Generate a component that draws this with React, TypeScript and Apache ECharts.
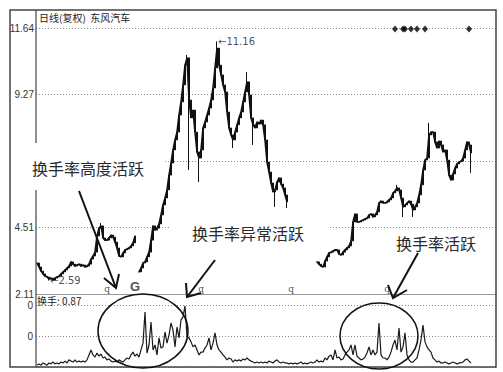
import React, { useEffect, useRef } from 'react';
import * as echarts from 'echarts';

const SLOT_COUNT = 230;
const PRICE_TICKS = ['2.11', '4.51', '6.89', '9.27', '11.64'];
const PRICE_BASE = 2.11;
const PRICE_STEP = 2.3825;

// closing prices, segment 1 (slots 0-49)
const CLOSE_SEG1 = [
  3.22, 3.08, 2.93, 2.83, 2.75, 2.72, 2.65, 2.68, 2.61, 2.68,
  2.72, 2.75, 2.83, 2.90, 2.97, 3.04, 3.11, 3.26, 3.18, 3.11,
  3.15, 3.18, 3.11, 3.15, 3.08, 3.11, 3.18, 3.36, 3.47, 3.61,
  4.19, 4.47, 4.55, 4.12, 4.04, 4.04, 4.12, 4.22, 4.15, 3.97,
  3.76, 3.47, 3.44, 3.58, 3.69, 3.72, 3.76, 3.83, 3.94, 4.19,
];
// segment 2 (slots 51-125)
const CLOSE_SEG2 = [
  2.90, 3.04, 3.22, 3.26, 3.44, 3.61, 4.04, 4.55, 4.40, 4.47,
  4.62, 4.94, 5.30, 5.55, 5.84, 6.37, 6.80, 7.27, 7.63, 7.91,
  8.52, 8.99, 9.60, 10.31, 10.57, 9.06, 8.42, 8.70, 7.91, 7.20,
  6.98, 7.27, 8.06, 8.27, 8.52, 8.77, 9.06, 9.49, 10.21, 10.92,
  10.31, 9.96, 9.60, 9.35, 8.63, 8.06, 7.81, 7.63, 7.91, 8.17,
  8.42, 8.63, 8.99, 9.35, 9.71, 9.24, 8.42, 8.17, 8.06, 8.27,
  8.20, 8.34, 8.17, 7.63, 6.84, 6.48, 6.09, 5.77, 5.84, 6.12,
  6.27, 6.05, 5.91, 5.66, 5.41,
];
// segment 3 (slots 140-217)
const CLOSE_SEG3 = [
  3.26, 3.18, 3.11, 3.08, 3.29, 3.44, 3.58, 3.61, 3.65, 3.69,
  3.69, 3.54, 3.51, 3.61, 3.69, 3.76, 3.83, 4.01, 4.69, 4.98,
  4.69, 4.69, 4.73, 4.76, 4.80, 4.83, 4.94, 4.98, 4.87, 4.94,
  5.05, 5.37, 5.44, 5.37, 5.37, 5.41, 5.48, 5.55, 5.73, 5.80,
  5.91, 5.84, 5.55, 5.23, 5.30, 5.37, 5.44, 5.33, 5.12, 5.23,
  5.37, 5.66, 6.02, 6.55, 6.91, 6.98, 7.81, 7.91, 7.91, 7.56,
  7.34, 7.59, 7.45, 7.20, 7.27, 6.91, 6.37, 6.19, 6.41, 6.62,
  6.77, 6.84, 6.87, 6.98, 7.27, 7.56, 7.45, 7.16,
];
const WICK_LOWS: [number, number][] = [
  [6, 2.59], [76, 6.55], [81, 6.12], [98, 7.34], [108, 7.45], [119, 5.23],
  [125, 5.19], [183, 4.87], [188, 4.87], [217, 6.45],
];
const WICK_HIGHS: [number, number][] = [
  [32, 4.65], [75, 10.67], [90, 11.16], [105, 10.06], [180, 6.02], [196, 8.24],
];

const TURNOVER = [
  0.06, 0.10, 0.06, 0.13, 0.10, 0.06, 0.13, 0.10, 0.16, 0.10,
  0.13, 0.10, 0.16, 0.13, 0.19, 0.13, 0.23, 0.19, 0.16, 0.23,
  0.16, 0.19, 0.16, 0.19, 0.16, 0.23, 0.39, 0.55, 0.39, 0.32,
  0.45, 0.35, 0.42, 0.29, 0.32, 0.23, 0.26, 0.19, 0.16, 0.19,
  0.16, 0.23, 0.19, 0.16, 0.23, 0.29, 0.26, 0.39, 0.48, 0.35,
  0.42, 0.32, 0.55, 0.77, 1.77, 0.45, 0.71, 1.45, 0.55, 0.71,
  0.39, 0.94, 0.61, 0.65, 1.13, 0.77, 1.03, 1.42, 1.19, 0.65,
  1.29, 0.94, 1.52, 1.61, 1.97, 0.97, 0.94, 0.81, 0.65, 0.71,
  0.55, 0.39, 0.48, 0.48, 0.61, 0.71, 0.94, 0.55, 0.77, 1.10,
  0.71, 0.55, 0.48, 0.39, 0.32, 0.23, 0.29, 0.26, 0.16, 0.23,
  0.19, 0.23, 0.19, 0.26, 0.23, 0.29, 0.23, 0.19, 0.16, 0.13,
  0.16, 0.13, 0.16, 0.13, 0.16, 0.13, 0.19, 0.16, 0.13, 0.19,
  0.23, 0.16, 0.13, 0.16, 0.13, 0.13, 0.10, 0.13, 0.10, 0.13,
  0.10, 0.13, 0.16, 0.10, 0.13, 0.10, 0.13, 0.16, 0.13, 0.16,
  0.23, 0.16, 0.19, 0.16, 0.29, 0.23, 0.35, 0.39, 0.23, 0.55,
  0.29, 0.32, 0.23, 0.26, 0.39, 0.48, 0.55, 0.71, 0.39, 0.71,
  0.35, 0.29, 0.23, 0.26, 0.32, 0.45, 0.65, 0.39, 0.55, 0.39,
  0.48, 1.42, 0.39, 0.29, 0.29, 0.23, 0.32, 0.48, 0.71, 0.87,
  0.55, 1.26, 0.48, 0.65, 1.10, 0.39, 0.23, 0.16, 0.16, 0.23,
  0.29, 0.55, 0.87, 1.35, 0.81, 0.65, 0.55, 0.48, 0.29, 0.23,
  0.16, 0.19, 0.13, 0.13, 0.16, 0.13, 0.10, 0.13, 0.16, 0.13,
  0.10, 0.13, 0.13, 0.16, 0.23, 0.26, 0.19, 0.13,
];

const DIAMOND_SLOTS = [179, 183, 184, 187, 190, 194, 216];
const DIAMOND_PRICE = 11.6;
const MARKER_SLOTS = [35, 49, 82, 127, 175];
const MARKER_TEXT = ['q', 'G', 'q', 'q', 'q'];
const EXTREME_SLOTS = [90, 6];
const EXTREME_PRICES = [11.16, 2.59];

const toIdx = (p: number) => (p - PRICE_BASE) / PRICE_STEP;

export default function App() {
  const ref = useRef<HTMLDivElement>(null);
  useEffect(() => {
    const chart = echarts.init(ref.current!, null, { renderer: 'svg' });
    const closes: (number | null)[] = [
      ...CLOSE_SEG1,
      null,
      ...CLOSE_SEG2,
      ...new Array(14).fill(null),
      ...CLOSE_SEG3,
    ];
    while (closes.length < SLOT_COUNT) closes.push(null);
    const lowMap = new Map(WICK_LOWS);
    const highMap = new Map(WICK_HIGHS);
    const candles = closes.map((c, i) => {
      if (c == null) return ['-', '-', '-', '-'];
      const prev = i > 0 ? closes[i - 1] : null;
      const o = prev == null ? c : prev;
      const lo = Math.min(o, c, lowMap.has(i) ? lowMap.get(i)! : Infinity);
      const hi = Math.max(o, c, highMap.has(i) ? highMap.get(i)! : -Infinity);
      return [o, c, lo, hi].map(toIdx);
    });
    const closeLine = closes.map((c) => (c == null ? '-' : toIdx(c)));
    const cats = Array.from({ length: SLOT_COUNT }, (_, i) => String(i));
    const font = 'Liberation Sans';
    const cjk = 'Noto Sans CJK SC';

    const boxZ = 100;
    const textStyle = (text: string, x: number, y: number) => ({
      type: 'text',
      z: boxZ + 1,
      x,
      y,
      style: {
        text,
        fontSize: 16,
        fontFamily: cjk,
        fill: '#2a2a2a',
        align: 'center',
        verticalAlign: 'middle',
        textAlign: 'center',
        textVerticalAlign: 'middle',
      },
    });
    const arrowStyle = { stroke: '#111', lineWidth: 2, fill: 'none' };

    chart.setOption({
      animation: false,
      backgroundColor: '#fff',
      grid: [
        { left: 36, right: 7, top: 28, height: 266 },
        { left: 36, right: 7, top: 294, height: 73 },
      ],
      xAxis: [
        {
          type: 'category',
          gridIndex: 0,
          data: cats,
          boundaryGap: true,
          axisLine: { show: true, lineStyle: { color: '#999', width: 1 } },
          axisTick: { show: false },
          axisLabel: { show: false },
          splitLine: { show: false },
        },
        {
          type: 'category',
          gridIndex: 1,
          data: cats,
          boundaryGap: true,
          axisLine: { show: false },
          axisTick: { show: false },
          axisLabel: { show: false },
          splitLine: { show: false },
        },
      ],
      yAxis: [
        {
          type: 'value',
          gridIndex: 0,
          min: 0,
          max: 4,
          interval: 1,
          axisLine: { show: false },
          axisTick: { show: false },
          axisLabel: {
            margin: 2,
            color: '#333',
            fontSize: 10,
            fontFamily: font,
            formatter: (v: number) => PRICE_TICKS[Math.round(v)] ?? '',
          },
          splitLine: {
            show: true,
            lineStyle: { color: '#888', type: [1, 2], width: 1 },
          },
        },
        {
          type: 'value',
          gridIndex: 1,
          min: 0,
          max: 2.355,
          interval: 1,
          axisLine: { show: false },
          axisTick: { show: false },
          axisLabel: {
            margin: 3,
            color: '#333',
            fontSize: 10,
            fontFamily: font,
            showMaxLabel: false,
            formatter: (v: number) => (v === 1 || v === 2 ? '0' : ''),
          },
          splitLine: {
            show: true,
            lineStyle: { color: '#888', type: [1, 2], width: 1 },
          },
        },
      ],
      series: [
        {
          type: 'candlestick',
          xAxisIndex: 0,
          yAxisIndex: 0,
          data: candles,
          barWidth: 1.6,
          itemStyle: {
            color: '#111',
            color0: '#111',
            borderColor: '#111',
            borderColor0: '#111',
            borderWidth: 1,
          },
        },
        {
          type: 'line',
          xAxisIndex: 0,
          yAxisIndex: 0,
          data: closeLine,
          showSymbol: false,
          connectNulls: false,
          lineStyle: { color: '#111', width: 1.6 },
        },
        {
          type: 'scatter',
          xAxisIndex: 0,
          yAxisIndex: 0,
          symbol: 'diamond',
          symbolSize: [6, 7],
          itemStyle: { color: '#000' },
          data: DIAMOND_SLOTS.map((s) => [s, toIdx(DIAMOND_PRICE)]),
        },
        {
          type: 'scatter',
          xAxisIndex: 0,
          yAxisIndex: 0,
          symbolSize: 0,
          data: MARKER_SLOTS.map((s, i) => ({
            value: [s, 0],
            label: {
              show: true,
              position: 'top',
              distance: 1,
              formatter: MARKER_TEXT[i],
              fontSize: MARKER_TEXT[i] === 'G' ? 13 : 9,
              fontWeight: MARKER_TEXT[i] === 'G' ? 'bold' : 'normal',
              fontFamily: MARKER_TEXT[i] === 'G' ? font : 'DejaVu Serif',
              color: '#222',
            },
          })),
        },
        {
          type: 'scatter',
          xAxisIndex: 0,
          yAxisIndex: 0,
          symbolSize: 0,
          data: EXTREME_SLOTS.map((s, i) => ({
            value: [s, toIdx(EXTREME_PRICES[i])],
            label: {
              show: true,
              position: 'right',
              distance: 1,
              formatter: '\u2190' + EXTREME_PRICES[i].toFixed(2),
              fontSize: 10,
              fontFamily: 'DejaVu Sans',
              color: '#222',
            },
          })),
        },
        {
          type: 'line',
          xAxisIndex: 1,
          yAxisIndex: 1,
          data: TURNOVER,
          showSymbol: false,
          lineStyle: { color: '#1a1a1a', width: 1.2 },
        },
      ],
      graphic: [
        {
          type: 'rect',
          z: 90,
          shape: { x: 10, y: 10, width: 486, height: 357 },
          style: { fill: 'none', stroke: '#444', lineWidth: 1.5 },
        },
        {
          type: 'line',
          z: 90,
          shape: { x1: 36, y1: 10, x2: 36, y2: 367 },
          style: { stroke: '#444', lineWidth: 1.2 },
        },
        {
          type: 'text',
          z: 95,
          x: 39,
          y: 17,
          style: {
            text: '日线(复权)  东风汽车',
            fontSize: 10,
            fontFamily: cjk,
            fill: '#222',
            align: 'left',
            verticalAlign: 'middle',
            textAlign: 'left',
            textVerticalAlign: 'middle',
          },
        },
        {
          type: 'text',
          z: 95,
          x: 37,
          y: 300,
          style: {
            text: '换手: 0.87',
            fontSize: 10,
            fontFamily: cjk,
            fill: '#222',
            align: 'left',
            verticalAlign: 'middle',
            textAlign: 'left',
            textVerticalAlign: 'middle',
          },
        },
        { type: 'rect', z: boxZ, shape: { x: 12, y: 143, width: 151, height: 47 }, style: { fill: '#fff' } },
        { type: 'rect', z: boxZ, shape: { x: 170, y: 213, width: 160, height: 37 }, style: { fill: '#fff' } },
        { type: 'rect', z: boxZ, shape: { x: 392, y: 234, width: 88, height: 19 }, style: { fill: '#fff' } },
        textStyle('换手率高度活跃', 88, 168),
        textStyle('换手率异常活跃', 248, 233),
        textStyle('换手率活跃', 436, 243),
        { type: 'line', z: boxZ + 2, shape: { x1: 79, y1: 191, x2: 116, y2: 288 }, style: arrowStyle },
        { type: 'polyline', z: boxZ + 2, shape: { points: [[104, 278], [116, 288], [119, 274]] }, style: arrowStyle },
        { type: 'line', z: boxZ + 2, shape: { x1: 215, y1: 260, x2: 187, y2: 297 }, style: arrowStyle },
        { type: 'polyline', z: boxZ + 2, shape: { points: [[186, 283], [187, 297], [201, 293]] }, style: arrowStyle },
        { type: 'line', z: boxZ + 2, shape: { x1: 418, y1: 253, x2: 393, y2: 298 }, style: arrowStyle },
        { type: 'polyline', z: boxZ + 2, shape: { points: [[388, 285], [393, 298], [407, 290]] }, style: arrowStyle },
        {
          type: 'ellipse',
          z: boxZ + 2,
          shape: { cx: 143, cy: 331, rx: 45, ry: 37 },
          style: { fill: 'none', stroke: '#111', lineWidth: 1.5 },
        },
        {
          type: 'ellipse',
          z: boxZ + 2,
          shape: { cx: 379, cy: 336, rx: 39, ry: 33 },
          style: { fill: 'none', stroke: '#111', lineWidth: 1.5 },
        },
      ],
    });
    return () => chart.dispose();
  }, []);
  return (
    <div
      ref={ref}
      style={{ position: 'fixed', left: 0, top: 0, width: 503, height: 372, background: '#fff' }}
    />
  );
}
